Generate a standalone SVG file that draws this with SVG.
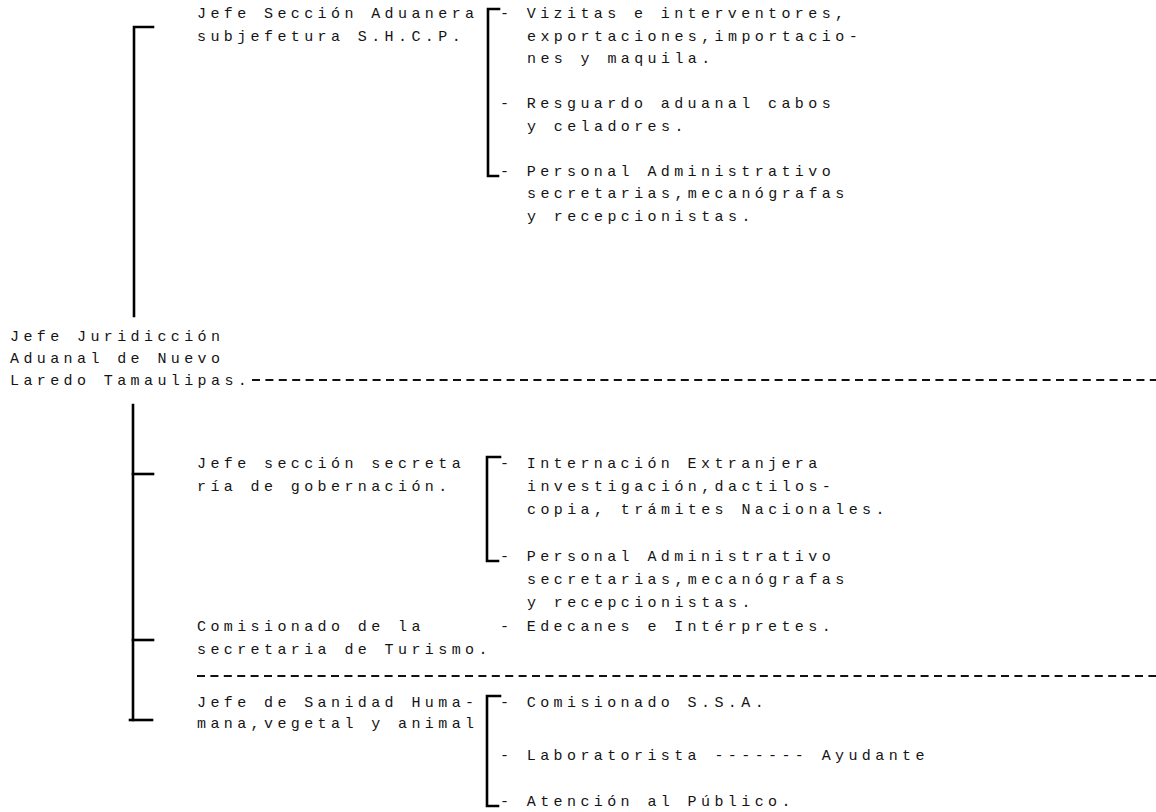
<svg xmlns="http://www.w3.org/2000/svg" width="1156" height="812" viewBox="0 0 1156 812">
  <style>
    .t { font-family: "Liberation Mono", "DejaVu Sans Mono", monospace; font-size: 15px; letter-spacing: 4.4px; fill: #141414; }
    .br { fill: none; stroke: #000; stroke-width: 2.6; stroke-linecap: square; }
    .dash { fill: none; stroke: #111; stroke-width: 2; stroke-dasharray: 8 5.4; }
  </style>
  <rect width="1156" height="812" fill="#fff"/>

  <!-- brackets and dashed rules -->
  <g id="connectors">
    <!-- main bracket, upper arm -->
    <polyline class="br" points="153,27 134,27 134,316"/>
    <!-- main bracket, lower arm with ticks -->
    <polyline class="br" points="133,405 133,720"/>
    <line class="br" x1="133" y1="474" x2="153" y2="474"/>
    <line class="br" x1="133" y1="640" x2="153" y2="640"/>
    <line class="br" x1="130" y1="720" x2="152" y2="720"/>
    <!-- customs section bracket -->
    <polyline class="br" points="499,9 488,9 488,176 498,176"/>
    <!-- interior ministry bracket -->
    <polyline class="br" points="500,457 487,457 487,561 498,561"/>
    <!-- health bracket -->
    <polyline class="br" points="500,696 487,696 487,806 498,806"/>
    <!-- dashed rules -->
    <line class="dash" x1="252" y1="380" x2="1156" y2="380"/>
    <line class="dash" x1="197" y1="676" x2="1156" y2="676"/>
  </g>

  <g id="jefe-juridiccion">
    <text class="t" x="10" y="341">Jefe Juridicción</text>
    <text class="t" x="10" y="363">Aduanal de Nuevo</text>
    <text class="t" x="10" y="385">Laredo Tamaulipas.</text>
  </g>

  <g id="seccion-aduanera">
    <text class="t" x="197" y="18">Jefe Sección Aduanera</text>
    <text class="t" x="197" y="40.5">subjefetura S.H.C.P.</text>
  </g>

  <g id="aduana-visitas">
    <text class="t" x="500" y="18">- Vizitas e interventores,</text>
    <text class="t" x="527" y="40.5">exportaciones,importacio-</text>
    <text class="t" x="527" y="63">nes y maquila.</text>
  </g>
  <g id="aduana-resguardo">
    <text class="t" x="500" y="108">- Resguardo aduanal cabos</text>
    <text class="t" x="527" y="130.5">y celadores.</text>
  </g>
  <g id="aduana-personal">
    <text class="t" x="500" y="175.5">- Personal Administrativo</text>
    <text class="t" x="527" y="198">secretarias,mecanógrafas</text>
    <text class="t" x="527" y="220.5">y recepcionistas.</text>
  </g>

  <g id="seccion-gobernacion">
    <text class="t" x="197" y="468">Jefe sección secreta</text>
    <text class="t" x="197" y="491">ría de gobernación.</text>
  </g>
  <g id="gobernacion-internacion">
    <text class="t" x="500" y="468">- Internación Extranjera</text>
    <text class="t" x="527" y="491">investigación,dactilos-</text>
    <text class="t" x="527" y="514">copia, trámites Nacionales.</text>
  </g>
  <g id="gobernacion-personal">
    <text class="t" x="500" y="560.5">- Personal Administrativo</text>
    <text class="t" x="527" y="584">secretarias,mecanógrafas</text>
    <text class="t" x="527" y="607">y recepcionistas.</text>
  </g>

  <g id="comisionado-turismo">
    <text class="t" x="197" y="631">Comisionado de la</text>
    <text class="t" x="197" y="654">secretaria de Turismo.</text>
  </g>
  <g id="turismo-edecanes">
    <text class="t" x="500" y="631">- Edecanes e Intérpretes.</text>
  </g>

  <g id="jefe-sanidad">
    <text class="t" x="197" y="707">Jefe de Sanidad Huma-</text>
    <text class="t" x="197" y="728">mana,vegetal y animal</text>
  </g>
  <g id="sanidad-comisionado">
    <text class="t" x="500" y="707">- Comisionado S.S.A.</text>
  </g>
  <g id="sanidad-laboratorista">
    <text class="t" x="500" y="760">- Laboratorista ------- Ayudante</text>
  </g>
  <g id="sanidad-atencion">
    <text class="t" x="500" y="806">- Atención al Público.</text>
  </g>
</svg>
